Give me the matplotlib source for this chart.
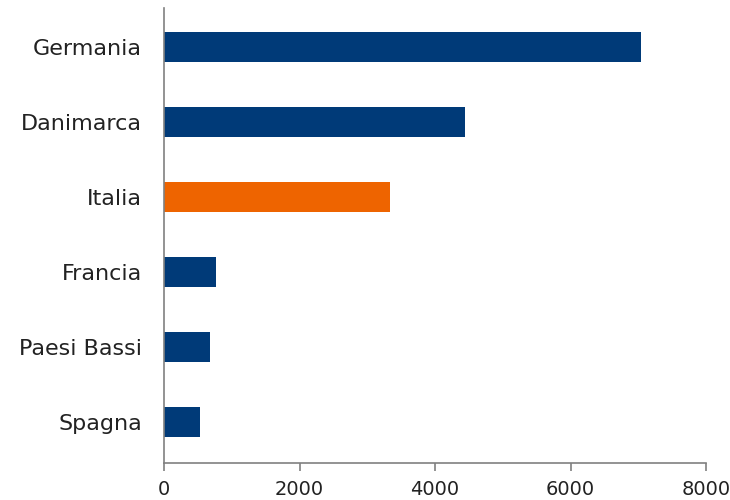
import matplotlib
matplotlib.use("Agg")
import matplotlib.pyplot as plt

countries = ["Germania", "Danimarca", "Italia", "Francia", "Paesi Bassi", "Spagna"]
values = [7045, 4450, 3340, 770, 685, 525]
highlight = "Italia"
xticks = [0, 2000, 4000, 6000, 8000]

plt.rcParams['font.family'] = ['DejaVu Sans']

fig = plt.figure(figsize=(7.3, 5.0), dpi=100)
ax = fig.add_axes([164/730, 37/500, (706-164)/730, (463-8)/500])

n = len(countries)
ypos = list(range(n - 1, -1, -1))
colors = ["#EE6400" if c == highlight else "#003A78" for c in countries]
ax.barh(ypos, values, height=0.4, color=colors, edgecolor="none")

ax.set_xlim(0, 8000)
ax.set_ylim(-0.55, n - 1 + 0.52)
ax.set_xticks(xticks)
ax.set_xticklabels([str(t) for t in xticks], fontsize=14, color="#222222")
ax.set_yticks(ypos)
ax.set_yticklabels(countries, fontsize=16, color="#222222")

for s in ["top", "right"]:
    ax.spines[s].set_visible(False)
for s in ["left", "bottom"]:
    ax.spines[s].set_color("#808080")
    ax.spines[s].set_linewidth(1.2)
ax.tick_params(axis="x", length=6, width=1.2, color="#808080", pad=6, direction="out")
ax.tick_params(axis="y", length=0, pad=16)

fig.savefig("out.png", dpi=100)
